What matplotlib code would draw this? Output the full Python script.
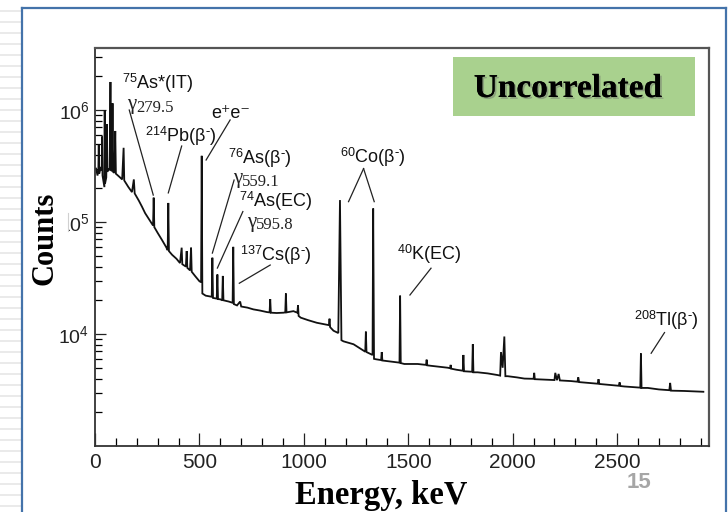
import matplotlib
matplotlib.use('Agg')
import matplotlib.pyplot as plt
import matplotlib.patheffects as pe
from matplotlib.patches import Rectangle
from matplotlib.lines import Line2D
from matplotlib.transforms import offset_copy
from matplotlib.ticker import FixedLocator, MultipleLocator, LogLocator, NullFormatter

plt.rcParams['font.family'] = ['Liberation Sans', 'DejaVu Sans']
plt.rcParams['mathtext.fontset'] = 'custom'
plt.rcParams['mathtext.rm'] = 'Liberation Serif'
plt.rcParams['mathtext.it'] = 'Liberation Serif:italic'
plt.rcParams['mathtext.bf'] = 'Liberation Serif:bold'
plt.rcParams['mathtext.sf'] = 'Liberation Sans'

# ---------------- data ----------------
energy = [5, 12, 16, 18, 20, 28, 32, 34, 36, 42, 45, 46.5, 48, 54, 57, 59, 63, 70, 74, 77,
          81, 84, 87, 93, 97, 100, 115, 130, 137, 140, 160, 177, 186, 190, 210, 225, 240,
          260, 278, 281, 284, 300, 321, 340, 348, 351, 354, 369, 390, 407, 415, 418, 435,
          439, 442, 455, 460, 463, 479, 500, 508, 511, 514, 530, 559, 562, 565, 583, 586,
          589, 600, 609, 612, 615, 640, 659, 662, 665, 680, 695, 700, 730, 758, 790, 823,
          836, 839, 842, 870, 903, 911, 914, 917, 950, 969, 972, 975, 985, 1020, 1062, 1100,
          1120, 1123, 1126, 1142, 1165, 1173, 1180, 1190, 1238, 1286, 1294, 1297, 1300,
          1329, 1332, 1336, 1345, 1370, 1373, 1376, 1410, 1449, 1458, 1461, 1464, 1481,
          1545, 1585, 1588, 1591, 1609, 1650, 1689, 1700, 1703, 1706, 1730, 1761, 1764,
          1767, 1800, 1806, 1809, 1812, 1832, 1880, 1928, 1940, 1944, 1952, 1960, 1965,
          1976, 2020, 2056, 2100, 2103, 2106, 2167, 2200, 2204, 2212, 2220, 2226, 2279,
          2310, 2314, 2318, 2370, 2407, 2411, 2415, 2470, 2508, 2512, 2516, 2535, 2580,
          2611, 2614, 2617, 2647, 2700, 2750, 2754, 2758, 2822, 2870, 2913]
counts = [3.0e5, 2.6e5, 2.9e5, 4.9e5, 2.7e5, 3.1e5, 2.9e5, 5.8e5, 2.6e5, 2.2e5, 2.05e5, 1.0e6,
          2.2e5, 2.5e5, 7.5e5, 2.8e5, 3.0e5, 2.9e5, 1.78e6, 2.9e5, 2.85e5, 1.15e6, 2.8e5,
          2.75e5, 6.5e5, 2.7e5, 2.55e5, 2.4e5, 4.6e5, 2.35e5, 2.05e5, 1.85e5, 2.4e5, 1.8e5,
          1.55e5, 1.37e5, 1.2e5, 1.05e5, 9.3e4, 1.65e5, 9.0e4, 8.0e4, 6.9e4, 6.0e4, 5.6e4,
          1.48e5, 5.5e4, 5.1e4, 4.7e4, 4.3e4, 5.9e4, 4.2e4, 4.0e4, 5.5e4, 3.9e4, 3.7e4,
          5.9e4, 3.6e4, 3.3e4, 2.96e4, 2.9e4, 3.9e5, 2.3e4, 2.2e4, 2.15e4, 4.8e4, 2.1e4,
          2.07e4, 3.4e4, 2.05e4, 2.04e4, 2.0e4, 3.3e4, 2.0e4, 1.95e4, 1.9e4, 6.0e4, 1.85e4,
          1.8e4, 1.95e4, 1.76e4, 1.72e4, 1.66e4, 1.62e4, 1.57e4, 1.56e4, 2.05e4, 1.55e4,
          1.54e4, 1.55e4, 1.56e4, 2.3e4, 1.56e4, 1.6e4, 1.55e4, 1.8e4, 1.45e4, 1.4e4,
          1.33e4, 1.26e4, 1.22e4, 1.2e4, 1.37e4, 1.15e4, 1.07e4, 1.02e4, 1.57e5, 8.8e3,
          8.6e3, 8.1e3, 7.1e3, 6.95e3, 1.05e4, 6.9e3, 6.5e3, 1.32e5, 6.0e3, 5.95e3, 5.85e3,
          6.9e3, 5.8e3, 5.7e3, 5.6e3, 5.55e3, 2.2e4, 5.5e3, 5.4e3, 5.4e3, 5.3e3, 5.9e3,
          5.25e3, 5.2e3, 5.1e3, 5.0e3, 4.95e3, 5.3e3, 4.9e3, 4.8e3, 4.7e3, 6.5e3, 4.65e3,
          4.6e3, 4.6e3, 8.1e3, 4.55e3, 4.55e3, 4.45e3, 4.3e3, 4.25e3, 6.9e3, 5.0e3, 9.5e3,
          4.2e3, 4.2e3, 4.1e3, 4.0e3, 3.98e3, 4.5e3, 3.95e3, 3.9e3, 3.88e3, 4.5e3, 3.87e3,
          4.4e3, 3.85e3, 3.8e3, 3.75e3, 4.1e3, 3.72e3, 3.65e3, 3.6e3, 3.95e3, 3.58e3, 3.5e3,
          3.45e3, 3.7e3, 3.43e3, 3.4e3, 3.35e3, 3.32e3, 6.7e3, 3.3e3, 3.3e3, 3.2e3, 3.15e3,
          3.66e3, 3.12e3, 3.1e3, 3.07e3, 3.05e3]

x_ticks = [0, 500, 1000, 1500, 2000, 2500]
x_tick_labels = ['0', '500', '1000', '1500', '2000', '2500']
y_ticks = [1e4, 1e5, 1e6]
y_tick_labels = [r'$\mathsf{10^{4}}$', r'$\mathsf{10^{5}}$', r'$\mathsf{10^{6}}$']

# isotope labels (sans serif)
bm = r'(β$^{\text{-}}$)'
iso_labels = [r'$^{\mathsf{75}}$As*(IT)', r'$^{\mathsf{214}}$Pb' + bm, 'e⁺e⁻',
              r'$^{\mathsf{76}}$As' + bm, r'$^{\mathsf{74}}$As(EC)', r'$^{\mathsf{137}}$Cs' + bm,
              r'$^{\mathsf{60}}$Co' + bm, r'$^{\mathsf{40}}$K(EC)', r'$^{\mathsf{208}}$Tl' + bm]
iso_E = [128, 240, 651, 637, 690, 695, 1330, 1447, 2583]
iso_C = [1.74e6, 5.86e5, 9.4e5, 3.73e5, 1.52e5, 5.07e4, 3.8e5, 5.2e4, 1.33e4]
iso_ha = ['left', 'left', 'center', 'left', 'left', 'left', 'center', 'left', 'left']

# gamma-line labels (serif)
gamma_values = ['279.5', '559.1', '595.8']
gamma_E = [152, 661, 727]
gamma_C = [1.12e6, 2.45e5, 1.0e5]

line_E0 = [164, 415, 647, 666, 708, 839, 1286, 1286, 1609, 2727]
line_C0 = [1.0e6, 4.77e5, 8.15e5, 2.37e5, 1.24e5, 4.13e4, 3.0e5, 3.0e5, 3.87e4, 1.03e4]
line_E1 = [279, 351, 532, 562, 586, 691, 1214, 1337, 1508, 2663]
line_C1 = [1.74e5, 1.82e5, 3.58e5, 5.28e4, 3.88e4, 2.84e4, 1.52e5, 1.52e5, 2.23e4, 6.73e3]

# ---------------- figure ----------------
W, H = 728, 512
fig = plt.figure(figsize=(W / 100, H / 100), dpi=100, facecolor='white')

# slide decorations
for yy in range(11, H, 11):
    fig.add_artist(Line2D([0, 21 / W], [1 - yy / H, 1 - yy / H], transform=fig.transFigure,
                          color='#e4e4e4', lw=1.1))
bc = '#4473aa'
fig.add_artist(Line2D([22 / W, 22 / W], [0, 1 - 8 / H], transform=fig.transFigure, color=bc, lw=1.6))
fig.add_artist(Line2D([22 / W, 726 / W], [1 - 8 / H, 1 - 8 / H], transform=fig.transFigure, color=bc, lw=1.6))
fig.add_artist(Line2D([726 / W, 726 / W], [0, 1 - 8 / H], transform=fig.transFigure, color=bc, lw=1.6))

ax = fig.add_axes([95 / W, 1 - 446 / H, (709 - 95) / W, (446 - 48) / H])
ax.plot(energy, counts, color='#111111', lw=1.3, solid_joinstyle='miter')
ax.set_yscale('log')
ax.set_xlim(0, 2940)
ax.set_ylim(1e3, 3.58e6)

ax.xaxis.set_major_locator(FixedLocator(x_ticks))
ax.set_xticklabels(x_tick_labels)
ax.xaxis.set_minor_locator(MultipleLocator(100))
ax.yaxis.set_major_locator(FixedLocator(y_ticks))
ax.set_yticklabels(y_tick_labels)
ax.yaxis.set_minor_locator(LogLocator(base=10, subs=range(2, 10)))
ax.yaxis.set_minor_formatter(NullFormatter())

ax.tick_params(axis='x', which='major', direction='in', length=9.5, width=0.9, labelsize=15, pad=5, colors='#222222')
ax.tick_params(axis='x', which='minor', direction='in', length=6, width=0.9)
ax.tick_params(axis='y', which='major', direction='in', length=8, width=0.9, labelsize=14, pad=4, colors='#222222')
ax.tick_params(axis='y', which='minor', direction='in', length=5, width=0.9)
for s in ['left', 'bottom']:
    ax.spines[s].set_color('#333333')
    ax.spines[s].set_linewidth(1.3)
for s in ['top', 'right']:
    ax.spines[s].set_color('#555555')
    ax.spines[s].set_linewidth(1.6)

for lab, e, c, ha in zip(iso_labels, iso_E, iso_C, iso_ha):
    ax.text(e, c, lab, ha=ha, va='center', fontsize=13, color='#111111')
for val, e, c in zip(gamma_values, gamma_E, gamma_C):
    ax.text(e, c, 'γ', ha='left', va='center', fontsize=15, family='Liberation Serif', color='#222222')
    tr = offset_copy(ax.transData, fig=fig, x=6.5, y=-2.5, units='points')
    ax.text(e, c, val, ha='left', va='center', fontsize=12, family='Liberation Serif',
            color='#222222', transform=tr)
for e0, c0, e1, c1 in zip(line_E0, line_C0, line_E1, line_C1):
    ax.plot([e0, e1], [c0, c1], color='#222222', lw=0.9)

# the "1" of the 10^5 label is covered on the slide
fig.add_artist(Rectangle((55 / W, 1 - 236 / H), 13 / W, 26 / H, transform=fig.transFigure,
                         facecolor='white', edgecolor='none', zorder=10))
fig.add_artist(Line2D([68 / W, 68 / W], [1 - 231 / H, 1 - 213 / H], transform=fig.transFigure,
                      color='#d0d0d0', lw=0.8, zorder=11))

# green label box
fig.add_artist(Rectangle((453 / W, 1 - 116 / H), 242 / W, 59 / H, transform=fig.transFigure,
                         facecolor='#a9d18e', edgecolor='none', zorder=5))
fig.text(568 / W, 1 - 97 / H, 'Uncorrelated', ha='center', va='baseline', fontsize=24,
         family='Liberation Serif', weight='bold', color='black', zorder=6,
         path_effects=[pe.withSimplePatchShadow(offset=(1.3, -1.3), shadow_rgbFace='#6a6a6a', alpha=0.45),
                       pe.Normal()])

fig.text(45 / W, 1 - 238 / H, 'Counts', rotation=90, ha='center', va='center', fontsize=22,
         family='Liberation Serif', weight='bold')
fig.text(381 / W, 1 - 504 / H, 'Energy, keV', ha='center', va='baseline', fontsize=23.5,
         family='Liberation Serif', weight='bold')
fig.text(639 / W, 1 - 488 / H, '15', ha='center', va='baseline', fontsize=16, weight='bold',
         color='#a6a6a6')

fig.savefig('out.png', dpi=100, facecolor='white')
